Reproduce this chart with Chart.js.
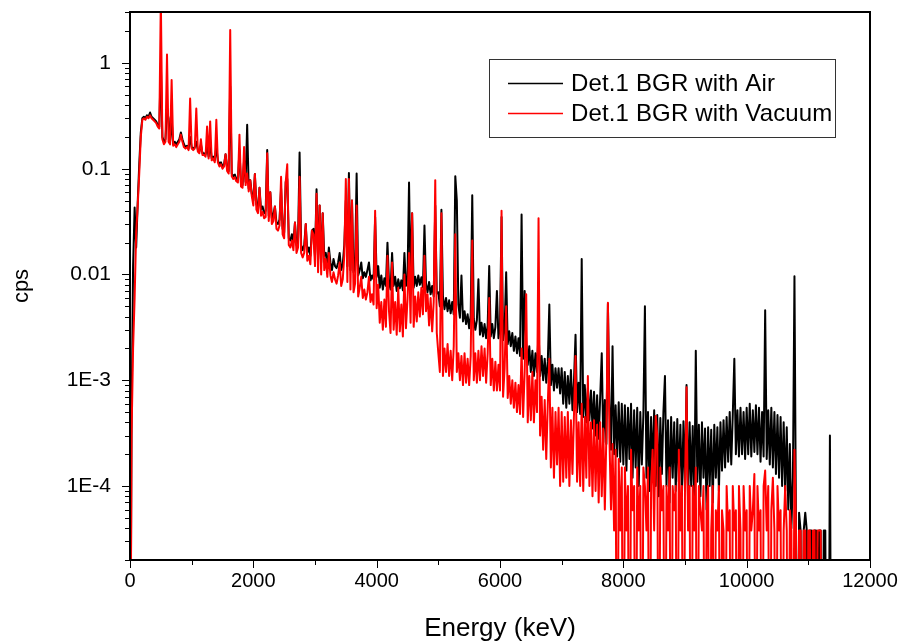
<!DOCTYPE html>
<html><head><meta charset="utf-8">
<script src="https://cdn.jsdelivr.net/npm/chart.js@4.4.1/dist/chart.umd.min.js"></script>
<style>html,body{margin:0;padding:0;background:#fff;}#wrap{width:903px;height:644px;position:relative;}</style>
</head><body><div id="wrap"><canvas id="c" width="903" height="644"></canvas></div>
<script>
const energyKeV = [
0,25,50,75,100,125,150,175,200,225,250,275,300,325,350,375,400,425,450,475,500,525,550,575,600,625,650,675,700,725,750,775,800,825,850,875,900,925,950,975,
1000,1025,1050,1075,1100,1125,1150,1175,1200,1225,1250,1275,1300,1325,1350,1375,1400,1425,1450,1475,1500,1525,1550,1575,1600,1625,1650,1675,1700,1725,1750,1775,1800,1825,1850,1875,1900,1925,1950,1975,
2000,2025,2050,2075,2100,2125,2150,2175,2200,2225,2250,2275,2300,2325,2350,2375,2400,2425,2450,2475,2500,2525,2550,2575,2600,2625,2650,2675,2700,2725,2750,2775,2800,2825,2850,2875,2900,2925,2950,2975,
3000,3025,3050,3075,3100,3125,3150,3175,3200,3225,3250,3275,3300,3325,3350,3375,3400,3425,3450,3475,3500,3525,3550,3575,3600,3625,3650,3675,3700,3725,3750,3775,3800,3825,3850,3875,3900,3925,3950,3975,
4000,4025,4050,4075,4100,4125,4150,4175,4200,4225,4250,4275,4300,4325,4350,4375,4400,4425,4450,4475,4500,4525,4550,4575,4600,4625,4650,4675,4700,4725,4750,4775,4800,4825,4850,4875,4900,4925,4950,4975,
5000,5025,5050,5075,5100,5125,5150,5175,5200,5225,5250,5275,5300,5325,5350,5375,5400,5425,5450,5475,5500,5525,5550,5575,5600,5625,5650,5675,5700,5725,5750,5775,5800,5825,5850,5875,5900,5925,5950,5975,
6000,6025,6050,6075,6100,6125,6150,6175,6200,6225,6250,6275,6300,6325,6350,6375,6400,6425,6450,6475,6500,6525,6550,6575,6600,6625,6650,6675,6700,6725,6750,6775,6800,6825,6850,6875,6900,6925,6950,6975,
7000,7025,7050,7075,7100,7125,7150,7175,7200,7225,7250,7275,7300,7325,7350,7375,7400,7425,7450,7475,7500,7525,7550,7575,7600,7625,7650,7675,7700,7725,7750,7775,7800,7825,7850,7875,7900,7925,7950,7975,
8000,8025,8050,8075,8100,8125,8150,8175,8200,8225,8250,8275,8300,8325,8350,8375,8400,8425,8450,8475,8500,8525,8550,8575,8600,8625,8650,8675,8700,8725,8750,8775,8800,8825,8850,8875,8900,8925,8950,8975,
9000,9025,9050,9075,9100,9125,9150,9175,9200,9225,9250,9275,9300,9325,9350,9375,9400,9425,9450,9475,9500,9525,9550,9575,9600,9625,9650,9675,9700,9725,9750,9775,9800,9825,9850,9875,9900,9925,9950,9975,
10000,10025,10050,10075,10100,10125,10150,10175,10200,10225,10250,10275,10300,10325,10350,10375,10400,10425,10450,10475,10500,10525,10550,10575,10600,10625,10650,10675,10700,10725,10750,10775,10800,10825,10850,10875,10900,10925,10950,10975,
11000,11025,11050,11075,11100,11125,11150,11175,11200,11225,11250,11275,11300,11325,11350,11375,11400
];

const airCps = [
0,0.0004,0.012,0.043,0.018,0.048,0.11,0.22,0.30,0.31,0.30,0.32,0.31,0.34,0.31,0.30,0.29,0.28,0.26,0.25,1.0,0.20,0.18,0.19,0.35,0.30,0.18,0.30,0.17,0.18,0.17,0.18,0.19,0.22,0.19,0.17,0.16,0.165,0.155,0.20,
0.16,0.155,0.16,0.18,0.15,0.145,0.17,0.14,0.14,0.135,0.16,0.13,0.17,0.125,0.13,0.12,0.16,0.12,0.11,0.115,0.105,0.11,0.137,0.10,0.095,0.6,0.09,0.085,0.088,0.08,0.078,0.15,0.072,0.07,0.12,0.075,0.26,0.065,0.078,0.058,
0.05,0.089,0.046,0.043,0.066,0.041,0.044,0.038,0.04,0.15,0.036,0.06,0.034,0.037,0.044,0.031,0.03,0.033,0.065,0.027,0.025,0.075,0.08,0.022,0.021,0.024,0.02,0.031,0.019,0.021,0.142,0.019,0.017,0.019,0.03,0.016,0.018,0.015,0.026,0.027,
0.015,0.064,0.014,0.045,0.013,0.038,0.015,0.016,0.012,0.018,0.013,0.011,0.014,0.012,0.0115,0.013,0.016,0.011,0.0125,0.019,0.05,0.012,0.091,0.011,0.05,0.0105,0.012,0.09,0.0098,0.011,0.013,0.0092,0.0105,0.0095,0.011,0.013,0.0088,0.0098,0.009,0.035,
0.0095,0.012,0.0075,0.0098,0.0072,0.0092,0.0078,0.02,0.0085,0.0072,0.016,0.0078,0.0095,0.007,0.009,0.0074,0.0088,0.0071,0.016,0.0078,0.0092,0.074,0.0085,0.038,0.0075,0.0095,0.0078,0.0098,0.008,0.0094,0.0076,0.029,0.0082,0.0068,0.0085,0.0065,0.0078,0.0062,0.045,0.0066,
0.0068,0.005,0.041,0.0062,0.0047,0.006,0.0045,0.0057,0.0043,0.0055,0.0042,0.085,0.05,0.0052,0.0039,0.0098,0.0036,0.0045,0.0034,0.0042,0.0031,0.0041,0.056,0.0038,0.003,0.0037,0.009,0.0027,0.0035,0.0026,0.0034,0.0025,0.0033,0.012,0.0026,0.0034,0.0025,0.0032,0.007,0.0025,
0.0033,0.035,0.0024,0.0031,0.0105,0.0022,0.0029,0.0021,0.0028,0.0019,0.0026,0.0018,0.0025,0.0017,0.037,0.0016,0.007,0.0022,0.0014,0.0021,0.0012,0.0019,0.0011,0.0018,0.0012,0.003,0.0011,0.0017,0.001,0.0016,0.00095,0.0015,0.0052,0.0009,0.0014,0.0008,0.0013,0.00085,0.0013,0.00075,
0.0013,0.0006,0.0012,0.00055,0.0011,0.0006,0.00125,0.00052,0.001,0.0027,0.0005,0.00095,0.00048,0.014,0.00045,0.0009,0.0004,0.00085,0.00042,0.0008,0.00035,0.00078,0.0003,0.00072,0.00028,0.0007,0.0018,0.00026,0.00065,0.00025,0.0053,0.0006,0.00022,0.0021,0.0002,0.00058,0.00019,0.00062,0.00017,0.0006,
0.00016,0.00058,0.00014,0.00055,0.00018,0.0006,0.00012,0.00052,0.00015,0.00055,0.0001,0.0005,0.00016,0.00048,0.005,0.00012,0.0005,0.00009,0.00045,0.00014,0.00052,0.0001,0.00047,0.00008,0.00044,0.00013,0.0005,0.0011,0.0001,0.00042,0.00007,0.00045,0.00012,0.0004,0.00009,0.00043,0.00011,0.00038,0.00008,0.00041,
0.0001,0.0009,0.00007,0.0004,0.0001,0.00037,0.00006,0.0019,0.00011,0.00038,0.00008,0.0004,0.00012,0.00035,0.00006,0.00036,0.0001,0.00034,0.00007,0.00038,0.00012,0.00036,0.00009,0.0004,0.00014,0.00042,0.00015,0.00045,0.00017,0.0005,0.00016,0.00048,0.0016,0.0002,0.00052,0.00019,0.00055,0.0002,0.0005,0.00018,
0.00055,0.0002,0.0006,0.00019,0.00052,0.00021,0.00058,0.0002,0.00055,0.00017,0.0005,0.00019,0.0046,0.00018,0.00052,0.00016,0.00055,0.00015,0.0005,0.00013,0.00047,0.00012,0.00045,0.0001,0.0004,0.00009,0.00036,0.00006,0.00025,0.00004,0.00012,0.0096,0.00004,0,0.000056,0.000038,0,0.000038,0.000056,0.000038,
0,0.000038,0.000038,0,0.000038,0.000038,0,0.000038,0.000038,0,0.000038,0.000038,0,0,0.0003,0,0
];

const vacuumCps = [
0,0.0003,0.002,0.006,0.025,0.045,0.09,0.2,0.29,0.30,0.29,0.31,0.30,0.32,0.30,0.29,0.28,0.27,0.25,0.24,4.0,0.19,0.17,0.18,1.2,0.18,0.17,0.69,0.165,0.17,0.16,0.17,0.18,0.21,0.18,0.16,0.155,0.16,0.15,0.46,
0.155,0.15,0.155,0.37,0.145,0.14,0.19,0.135,0.135,0.13,0.25,0.125,0.28,0.12,0.125,0.115,0.29,0.115,0.105,0.11,0.1,0.105,0.137,0.095,0.09,2.05,0.085,0.08,0.083,0.076,0.074,0.21,0.068,0.066,0.16,0.07,0.09,0.061,0.078,0.055,
0.045,0.089,0.041,0.038,0.066,0.036,0.039,0.034,0.035,0.14,0.032,0.06,0.03,0.032,0.044,0.027,0.026,0.029,0.084,0.024,0.022,0.075,0.11,0.019,0.018,0.021,0.017,0.031,0.016,0.018,0.084,0.016,0.0145,0.016,0.03,0.0135,0.015,0.0125,0.026,0.024,
0.012,0.058,0.0105,0.045,0.01,0.038,0.011,0.014,0.0095,0.016,0.0098,0.0085,0.0105,0.009,0.0082,0.0098,0.013,0.0078,0.009,0.015,0.08,0.0085,0.08,0.0072,0.05,0.0068,0.0082,0.045,0.0062,0.0075,0.0095,0.006,0.0072,0.0058,0.0068,0.0095,0.0055,0.0065,0.0052,0.04,
0.0048,0.008,0.0035,0.0055,0.003,0.0058,0.0032,0.015,0.0045,0.0028,0.013,0.003,0.0055,0.0027,0.0075,0.0029,0.0052,0.0026,0.01,0.0031,0.0058,0.016,0.0035,0.038,0.0032,0.0062,0.0036,0.0068,0.004,0.0075,0.0042,0.015,0.0045,0.0065,0.0033,0.006,0.0029,0.0055,0.078,0.0028,
0.0018,0.0012,0.038,0.0011,0.002,0.0012,0.0022,0.0011,0.0019,0.001,0.0021,0.024,0.0012,0.0018,0.001,0.0017,0.0009,0.0018,0.00095,0.0016,0.0009,0.0017,0.021,0.001,0.0018,0.00095,0.0019,0.001,0.0021,0.0011,0.002,0.00095,0.0018,0.006,0.0009,0.0016,0.0008,0.0015,0.0008,0.0014,
0.0008,0.04,0.0007,0.0013,0.005,0.00068,0.0011,0.0006,0.001,0.00055,0.00095,0.0005,0.0009,0.00048,0.002,0.00045,0.0012,0.0065,0.0004,0.0011,0.00042,0.0012,0.0004,0.001,0.0005,0.034,0.0003,0.0007,0.00022,0.00065,0.00018,0.0006,0.0016,0.00015,0.00055,0.00012,0.0005,0.00016,0.00055,0.0001,
0.0005,0.00011,0.00045,0.00012,0.0005,0.0001,0.00042,0.00013,0.00048,0.0017,0.00011,0.0004,0.0001,0.0006,0.00009,0.00045,0.00012,0.0011,0.0001,0.0004,0.00008,0.00042,0.00009,0.00038,0.00007,0.0004,0.00008,0.00035,0.00006,0.0003,0.0054,0.00028,0.00006,0.00025,0.000038,0.00022,0,0.00018,0.000038,0.00015,
0,0.00015,0.000038,0.0001,0,0.00022,0.000059,0.0001,0,0.00015,0.000038,0.0001,0,0.00015,0.0001,0.000038,0.00015,0,0.0001,0.00022,0.000038,0.00046,0.0003,0,0.00015,0.000059,0.0001,0,0.0001,0.000038,0.00015,0,0.0001,0.000059,0.0001,0,0.00022,0.000038,0.0001,0,
0.0001,0.00086,0.000038,0.0001,0,0.0001,0.000038,0.00015,0,0.0001,0.000059,0.000038,0.0001,0,0.000059,0.0001,0,0.000038,0.0001,0,0.000059,0.000038,0.0001,0,0.000059,0.000038,0,0.0001,0.000038,0.000059,0,0.0001,0.000038,0.000059,0,0.0001,0.000038,0,0.0001,0.000038,
0.000059,0,0.0001,0.000038,0.000059,0.00013,0,0.0001,0.000038,0.000059,0,0.0001,0.00014,0.000038,0.0001,0,0.000059,0.00012,0.000038,0,0.0001,0.000038,0.000059,0,0.000038,0.0001,0.000038,0,0.000059,0.000038,0,0.00022,0.000038,0,0.000038,0.000038,0,0.000038,0.000038,0,
0.000038,0.000038,0,0.000038,0.000038,0,0.000038,0.000038,0.000038,0,0,0,0,0,0,0,0
];

const seriesLabels = ['Det.1 BGR with Air', 'Det.1 BGR with Vacuum'];
const seriesColors = ['#000000', '#ff0000'];
const xTickValues = [0, 2000, 4000, 6000, 8000, 10000, 12000];
const xTickLabels = ['0', '2000', '4000', '6000', '8000', '10000', '12000'];
const yTickValues = [1, 0.1, 0.01, 0.001, 0.0001];
const yTickLabels = ['1', '0.1', '0.01', '1E-3', '1E-4'];
const xTitle = 'Energy (keV)';
const yTitle = 'cps';

const Y_MIN = 2.0e-5, Y_MAX = 3.03;
const BELOW_AXIS = 1e-7; // zero counts: drawn down through the bottom axis
const FONT = "'Liberation Sans', Arial, sans-serif";
Chart.defaults.font.family = FONT;

const toPoints = arr => energyKeV.map((e, i) => ({x: e, y: arr[i] > 0 ? arr[i] : BELOW_AXIS}));

const framePlugin = {
  id: 'frame',
  afterDraw(chart) {
    const {ctx, chartArea: a, scales: {x, y}} = chart;
    ctx.save();
    ctx.strokeStyle = '#000';
    ctx.lineWidth = 1;
    ctx.beginPath();
    for (let e = -5; e <= 0; e++) {
      for (let m = 1; m <= 9; m++) {
        const v = m * Math.pow(10, e);
        if (v < y.min || v > y.max) continue;
        const py = Math.round(y.getPixelForValue(v)) + 0.5;
        const len = m === 1 ? 8 : 5;
        ctx.moveTo(a.left - len, py); ctx.lineTo(a.left, py);
      }
    }
    for (let v = 0; v <= 12000; v += 1000) {
      const px = Math.round(x.getPixelForValue(v)) + 0.5;
      const len = v % 2000 === 0 ? 8 : 5;
      ctx.moveTo(px, a.bottom); ctx.lineTo(px, a.bottom + len);
    }
    ctx.stroke();
    ctx.lineWidth = 2;
    ctx.strokeRect(a.left, a.top, a.right - a.left, a.bottom - a.top);
    ctx.restore();
  }
};

const legendPlugin = {
  id: 'boxLegend',
  afterDraw(chart) {
    const ctx = chart.ctx;
    ctx.save();
    ctx.fillStyle = '#fff';
    ctx.fillRect(489, 59, 347, 78);
    ctx.strokeStyle = '#333';
    ctx.lineWidth = 1;
    ctx.strokeRect(489.5, 59.5, 346, 78);
    ctx.font = '24px ' + FONT;
    if ('letterSpacing' in ctx) ctx.letterSpacing = '0.15px';
    ctx.textBaseline = 'middle';
    ctx.textAlign = 'left';
    chart.data.datasets.forEach((ds, i) => {
      const yy = 83.5 + i * 30;
      ctx.strokeStyle = ds.borderColor;
      ctx.lineWidth = 1.5;
      ctx.beginPath(); ctx.moveTo(508, yy); ctx.lineTo(563, yy); ctx.stroke();
      ctx.fillStyle = '#000';
      ctx.fillText(ds.label, 571, yy + 1);
    });
    ctx.restore();
  }
};

const lineStyle = {borderWidth: 2, borderJoinStyle: 'round', borderCapStyle: 'butt', pointRadius: 0, tension: 0, fill: false};

new Chart(document.getElementById('c'), {
  type: 'line',
  data: {
    datasets: [
      Object.assign({label: seriesLabels[0], data: toPoints(airCps), borderColor: seriesColors[0], order: 2}, lineStyle),
      Object.assign({label: seriesLabels[1], data: toPoints(vacuumCps), borderColor: seriesColors[1], order: 1}, lineStyle)
    ]
  },
  options: {
    responsive: false,
    animation: false,
    events: [],
    layout: {padding: {left: 0, right: 33, top: 12, bottom: 0}},
    plugins: {legend: {display: false}, tooltip: {enabled: false}},
    scales: {
      x: {
        type: 'linear', min: 0, max: 12000,
        grid: {display: false, drawTicks: false}, border: {display: false},
        afterBuildTicks: s => { s.ticks = xTickValues.map(v => ({value: v})); },
        afterFit: s => { s.height = 84; s.paddingLeft = 0; s.paddingRight = 0; },
        ticks: {autoSkip: false, maxRotation: 0, padding: 9, color: '#000', font: {size: 20}, callback: (v, i) => xTickLabels[i]},
        title: {display: true, text: xTitle, color: '#000', font: {size: 26}, padding: {top: 0, bottom: 0}}
      },
      y: {
        type: 'logarithmic', min: Y_MIN, max: Y_MAX,
        grid: {display: false, drawTicks: false}, border: {display: false},
        afterBuildTicks: s => { s.ticks = yTickValues.map(v => ({value: v})); },
        afterFit: s => { s.width = 130; s.paddingTop = 0; s.paddingBottom = 0; },
        ticks: {autoSkip: false, padding: 19, color: '#000', font: {size: 21}, callback: (v, i) => yTickLabels[i]},
        title: {display: true, text: yTitle, color: '#000', font: {size: 22}, padding: {top: 9, bottom: 0}}
      }
    }
  },
  plugins: [framePlugin, legendPlugin]
});
</script>
</body></html>
